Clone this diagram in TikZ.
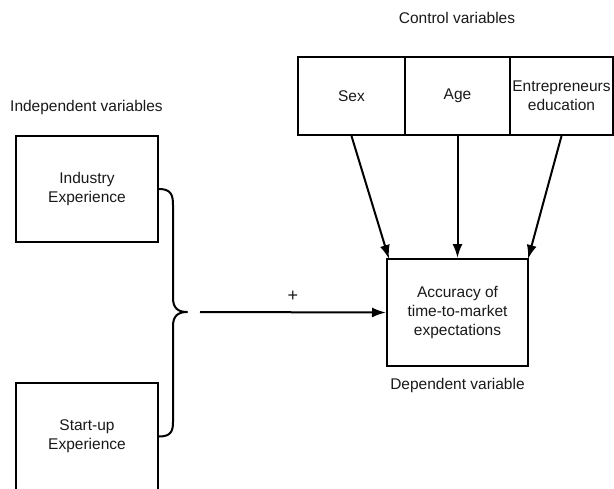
\documentclass[tikz,border=0pt]{standalone}
\usepackage{fontspec}
\setmainfont{Liberation Sans}
\usetikzlibrary{arrows.meta}
\begin{document}
\begin{tikzpicture}[x=1pt,y=-1pt,
  every node/.style={font=\fontsize{15.5}{19}\selectfont, text=black!90},
  box/.style={draw=black, line width=2pt, align=center, inner sep=0pt},
  lab/.style={inner sep=0pt},
  conn/.style={draw=black, line width=2pt},
  arr/.style={conn, -{Latex[length=14pt,width=10pt]}}]
\useasboundingbox (0,0) rectangle (614,488);
% control boxes
\node[box, minimum width=107pt, minimum height=78pt] (sex) at (351.5,96) {Sex};
\node[box, minimum width=105pt, minimum height=78pt] (age) at (457.5,96) {Age};
\node[box, minimum width=103pt, minimum height=78pt] (edu) at (561.5,96) {Entrepreneurs\\education};
\node[lab] (ctl) at (457,18) {Control variables};
% independent
\node[lab, anchor=west] (ind) at (10,107) {Independent variables};
\node[box, minimum width=142pt, minimum height=106pt] (ie) at (87,189) {Industry\\Experience};
\node[box, minimum width=142pt, minimum height=107pt] (se) at (87,436.5) {Start-up\\Experience};
% dependent
\node[box, minimum width=141pt, minimum height=107pt] (dep) at (457.5,312.5) {Accuracy of\\time-to-market\\expectations};
\node[lab] (deplab) at (457.5,385) {Dependent variable};
% brace
\coordinate (tip) at (187,312);
\coordinate (start) at (200,312);
\draw[conn, line join=round] (ie.east) .. controls ([xshift=12pt]ie.east) and (173,195) .. (173,205) -- (173,298)
  .. controls (173,308) and (178,312) .. (tip)
  .. controls (178,312) and (173,316) .. (173,326) -- (173,422)
  .. controls (173,431) and ([xshift=12pt]se.east) .. (se.east);
\draw[arr] (start) -- (dep.west) node[midway, above=10pt, inner sep=0pt, font=\fontsize{18}{19}\selectfont] {+};
% control arrows
\coordinate (t1) at (389,259);
\coordinate (t3) at (528,259);
\draw[arr] (sex.south) -- (t1);
\draw[arr] (age.south) -- (dep.north);
\draw[arr] (edu.south) -- (t3);
\end{tikzpicture}
\end{document}
